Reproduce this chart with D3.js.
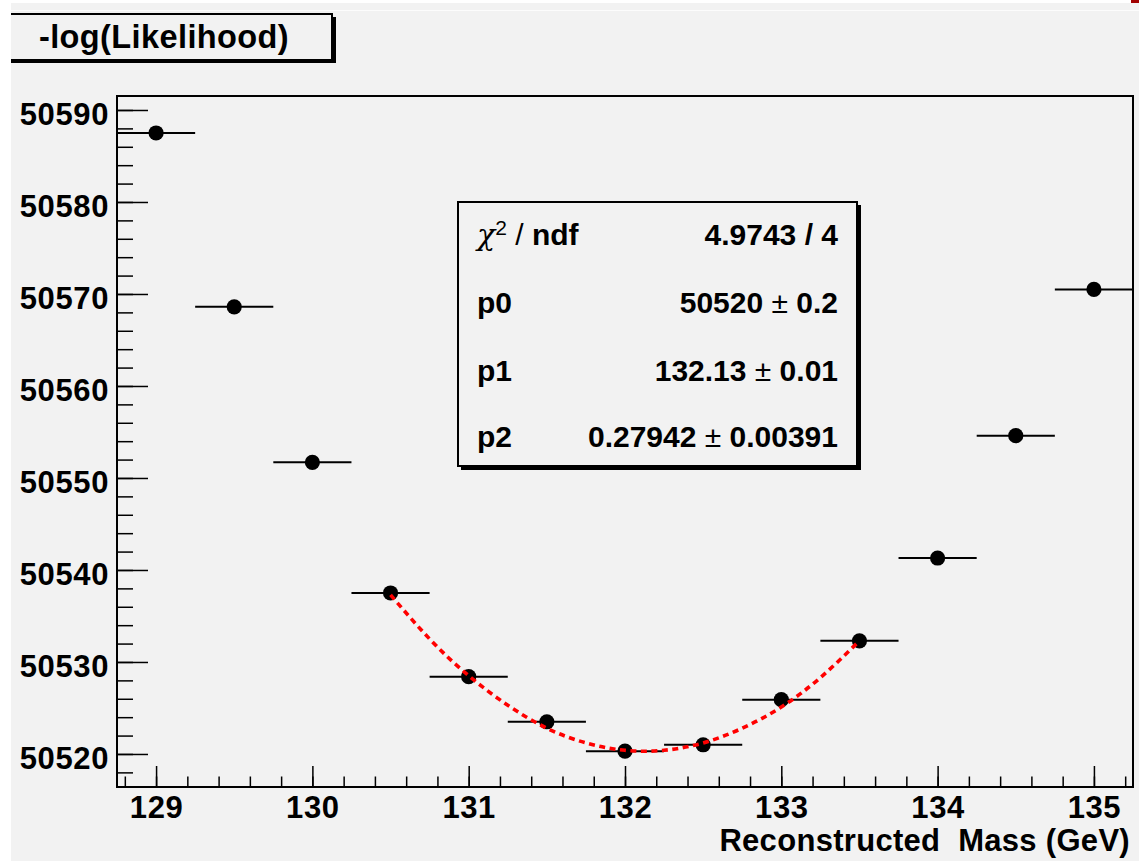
<!DOCTYPE html>
<html>
<head>
<meta charset="utf-8">
<script src="https://cdn.jsdelivr.net/npm/d3@7"></script>
<style>
  body { margin: 0; background: #f2f2f2; }
  text { font-family: "Liberation Sans", Arial, Helvetica, sans-serif; font-weight: bold; fill: #000; }
</style>
</head>
<body>
<div id="chart"></div>
<script>
var width_chart = 1139,
    height_chart = 861;

// scan points: mass (GeV) and -log(L)
var mass = [129, 129.5, 130, 130.5, 131, 131.5, 132, 132.5, 133, 133.5, 134, 134.5, 135];
var nll = [50587.5, 50568.6, 50551.7, 50537.5, 50528.4, 50523.5, 50520.3, 50521.0, 50525.9, 50532.3, 50541.3, 50554.6, 50570.5];
var binHalf = 0.25;

// fitted curve
var fitMass = [130.5, 130.75, 131, 131.25, 131.5, 131.75, 132, 132.25, 132.5, 132.75, 133, 133.25, 133.5];
var fitNll = [50537.3, 50532.5, 50528.5, 50525.3, 50522.8, 50521.2, 50520.4, 50520.4, 50521.2, 50522.8, 50525.1, 50528.3, 50532.3];

var xMajor = [129, 130, 131, 132, 133, 134, 135];
var xMinor = d3.range(128.8, 135.21, 0.2).map(function(v) { return +v.toFixed(1); });
var yMajor = [50520, 50530, 50540, 50550, 50560, 50570, 50580, 50590];
var yMinor = d3.range(50518, 50591, 2);

var statLabels = ["p0", "p1", "p2"];
var statCentral = ["4.9743 / 4", "50520", "132.13", "0.27942"];
var statErrors = ["", "0.2", "0.01", "0.00391"];

var frame = { left: 117, top: 96, right: 1133, bottom: 787 };

var svg = d3.select("#chart").append("svg")
    .attr("width", width_chart)
    .attr("height", height_chart);

svg.append("rect")
    .attr("width", width_chart).attr("height", height_chart)
    .style("fill", "#f2f2f2");

var x = d3.scaleLinear().domain([128.75, 135.25]).range([frame.left, frame.right]);
var y = d3.scaleLinear().domain([50516.41, 50591.52]).range([frame.bottom, frame.top]);

// frame
svg.append("rect")
    .attr("x", frame.left).attr("y", frame.top)
    .attr("width", frame.right - frame.left)
    .attr("height", frame.bottom - frame.top)
    .style("fill", "none").style("stroke", "#000").style("stroke-width", 2);

// x axis
var xAxis = svg.append("g")
    .attr("transform", "translate(0," + frame.bottom + ")")
    .call(d3.axisBottom(x).tickValues(xMajor).tickSize(-21).tickPadding(9).tickFormat(d3.format("d")));
svg.append("g")
    .attr("transform", "translate(0," + frame.bottom + ")")
    .call(d3.axisBottom(x).tickValues(xMinor).tickSize(-10.5).tickFormat(""));

// y axis
var yAxis = svg.append("g")
    .attr("transform", "translate(" + frame.left + ",0)")
    .call(d3.axisLeft(y).tickValues(yMajor).tickSize(-31).tickPadding(8).tickFormat(d3.format("d")));
svg.append("g")
    .attr("transform", "translate(" + frame.left + ",0)")
    .call(d3.axisLeft(y).tickValues(yMinor).tickSize(-16).tickFormat(""));

svg.selectAll(".domain").remove();
svg.selectAll(".tick line").style("stroke", "#000").style("stroke-width", 1.5);
svg.selectAll(".tick text")
    .style("font-size", "31px")
    .style("letter-spacing", "0.6px")
    .style("font-family", "Liberation Sans, Arial, sans-serif");
yAxis.selectAll("text").attr("dy", "0.46em");

// axis title
svg.append("text")
    .attr("x", 1130).attr("y", 851)
    .attr("text-anchor", "end")
    .style("font-size", "31px")
    .style("letter-spacing", "0.3px")
    .attr("xml:space", "preserve")
    .text("Reconstructed  Mass (GeV)");

// horizontal error bars
svg.selectAll("line.err")
    .data(mass)
    .enter().append("line")
    .attr("class", "err")
    .attr("x1", function(d) { return x(d - binHalf); })
    .attr("x2", function(d) { return x(d + binHalf); })
    .attr("y1", function(d, i) { return y(nll[i]); })
    .attr("y2", function(d, i) { return y(nll[i]); })
    .style("stroke", "#000").style("stroke-width", 2);

// markers
svg.selectAll("circle.pt")
    .data(mass)
    .enter().append("circle")
    .attr("class", "pt")
    .attr("cx", function(d) { return x(d); })
    .attr("cy", function(d, i) { return y(nll[i]); })
    .attr("r", 7.6)
    .style("fill", "#000");

// fit curve
var fitLine = d3.line()
    .x(function(d) { return x(d); })
    .y(function(d, i) { return y(fitNll[i]); })
    .curve(d3.curveNatural);

svg.append("path")
    .datum(fitMass)
    .attr("d", fitLine)
    .style("fill", "none")
    .style("stroke", "#ff0000")
    .style("stroke-width", 3.6)
    .style("stroke-dasharray", "6,4.5");

// stats box
svg.append("rect")
    .attr("x", 461).attr("y", 205).attr("width", 400).attr("height", 265)
    .style("fill", "#000");
svg.append("rect")
    .attr("x", 458).attr("y", 202).attr("width", 399).attr("height", 264)
    .style("fill", "#f2f2f2").style("stroke", "#000").style("stroke-width", 2);

var statBase = [245, 313, 381, 447];

// chi2 label: greek chi from a symbol font, not bold
var chiLab = svg.append("text")
    .attr("x", 477).attr("y", statBase[0])
    .style("font-size", "30px");
chiLab.append("tspan").style("font-weight", "normal").style("font-family", "DejaVu Serif, serif").style("font-style", "italic").text("\u03c7");
chiLab.append("tspan").style("font-weight", "normal").style("font-size", "21px").attr("dy", -10).text("2");
chiLab.append("tspan").attr("dy", 10).style("font-weight", "normal").text(" / ");
chiLab.append("tspan").text("ndf");

svg.selectAll("text.slab")
    .data(statLabels)
    .enter().append("text")
    .attr("class", "slab")
    .attr("x", 477)
    .attr("y", function(d, i) { return statBase[i + 1]; })
    .style("font-size", "30px")
    .text(function(d) { return d; });

var vals = svg.selectAll("text.sval")
    .data(statCentral)
    .enter().append("text")
    .attr("class", "sval")
    .attr("x", 838)
    .attr("y", function(d, i) { return statBase[i]; })
    .attr("text-anchor", "end")
    .style("font-size", "30px")
    .attr("xml:space", "preserve");
vals.append("tspan").text(function(d) { return d; });
vals.append("tspan").style("font-weight", "normal")
    .text(function(d, i) { return statErrors[i] ? " \u00b1 " : ""; });
vals.append("tspan")
    .text(function(d, i) { return statErrors[i]; });

// title box
svg.append("rect")
    .attr("x", 0).attr("y", 17).attr("width", 336).attr("height", 46)
    .style("fill", "#000");
svg.append("rect")
    .attr("x", 4).attr("y", 14).attr("width", 328).attr("height", 46)
    .style("fill", "#f2f2f2").style("stroke", "#000").style("stroke-width", 2);
svg.append("text")
    .attr("x", 164).attr("y", 48)
    .attr("text-anchor", "middle")
    .style("font-size", "32.5px")
    .style("letter-spacing", "0.4px")
    .text("-log(Likelihood)");

// screenshot edges
svg.append("rect").attr("x", 0).attr("y", 0).attr("width", 11).attr("height", height_chart).style("fill", "#fff");
svg.append("rect").attr("x", 0).attr("y", 0).attr("width", width_chart).attr("height", 3).style("fill", "#fff");
svg.append("line").attr("x1", 11).attr("x2", width_chart).attr("y1", 10.5).attr("y2", 10.5)
    .style("stroke", "#fff").style("stroke-width", 1).style("opacity", 0.8);
svg.append("rect").attr("x", 1131).attr("y", 0).attr("width", 8).attr("height", 3).style("fill", "#a00000");
</script>
</body>
</html>
